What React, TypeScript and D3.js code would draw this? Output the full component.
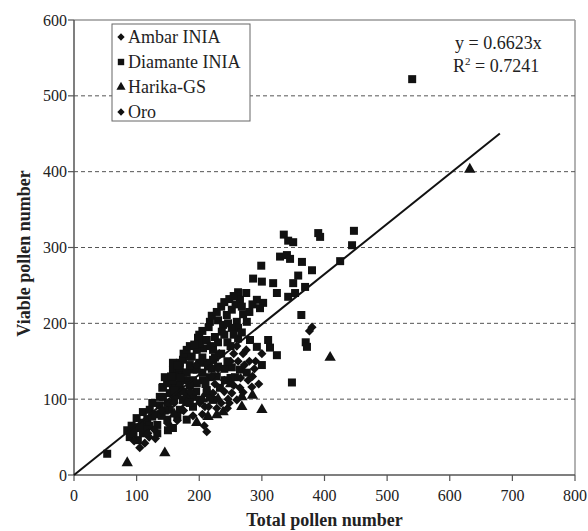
import * as d3 from 'd3';

// [total, viable] pairs
const ambarInia: [number, number][] = [
  [105, 36], [113, 42], [120, 50], [212, 57], [201, 95], [209, 90], [240, 110],
  [250, 150], [270, 160], [260, 170], [284, 116], [270, 109], [252, 108],
  [260, 99], [278, 125], [246, 100], [235, 95], [225, 120], [290, 150],
  [380, 195], [376, 190],
];

const diamanteInia: [number, number][] = [
  [53, 28], [540, 522],
  [335, 317], [342, 309], [350, 307], [390, 319], [393, 314], [447, 322],
  [444, 303], [425, 282], [329, 288], [340, 290], [345, 285], [364, 281],
  [380, 270], [299, 276], [286, 259], [300, 255], [318, 253], [358, 263],
  [350, 253], [369, 248], [324, 240], [342, 235], [353, 240], [363, 211],
  [370, 175], [372, 169], [348, 122], [300, 145], [310, 178], [313, 168],
  [324, 158], [292, 169],
  [262, 241], [275, 240], [265, 231], [292, 231], [302, 227], [297, 220],
  [252, 218], [244, 211], [230, 204], [238, 198], [217, 202], [260, 202],
  [276, 202], [198, 181], [209, 178], [225, 182], [236, 189], [262, 194],
  [252, 194], [281, 178], [188, 156], [206, 167], [222, 165], [169, 148],
  [158, 139], [174, 135], [190, 139], [222, 152], [230, 143], [214, 143],
  [252, 142], [265, 139], [257, 129], [276, 135], [241, 125], [233, 115],
  [206, 125], [217, 129], [196, 121], [149, 125], [142, 116], [158, 116],
  [169, 119], [137, 103], [153, 108], [174, 99], [190, 103], [201, 99],
  [212, 108], [222, 99],
  [85, 59], [98, 63], [89, 50], [102, 46], [110, 55], [109, 69], [117, 73],
  [110, 83], [121, 86], [125, 77], [133, 66], [133, 55], [137, 92], [142, 103],
  [141, 115], [149, 121], [153, 86], [149, 73], [158, 62], [150, 59],
  [145, 129], [158, 125], [165, 135], [169, 142], [158, 148], [169, 112],
  [180, 103], [190, 90], [174, 152], [185, 156], [196, 165], [201, 174],
  [212, 178], [180, 135], [190, 125], [196, 139], [212, 148], [169, 86],
  [165, 77], [180, 73], [217, 102], [212, 112],
  [160, 130], [165, 145], [175, 160], [180, 165], [185, 170], [192, 172],
  [200, 185], [205, 190], [215, 195], [220, 210], [228, 215], [235, 222],
  [240, 228], [248, 232], [255, 236], [258, 225], [268, 222], [270, 212],
  [280, 215], [285, 225], [246, 200], [240, 185], [230, 175], [218, 170],
  [205, 155], [200, 148], [185, 145], [178, 125], [165, 105], [160, 100],
  [150, 95], [145, 85], [130, 80], [125, 95], [120, 65], [115, 60], [105, 62],
  [95, 55], [92, 65], [100, 75], [140, 78], [155, 130], [185, 118], [195, 110],
  [210, 120], [220, 140], [228, 130], [240, 140], [245, 150], [235, 160],
  [225, 155], [250, 170], [262, 180], [268, 188], [245, 175], [255, 185],
  [160, 112], [175, 110], [185, 95], [170, 128], [205, 135], [250, 128],
];

const harikaGs: [number, number][] = [
  [85, 16], [145, 29], [196, 69], [214, 77], [228, 79], [238, 83], [268, 90],
  [268, 103], [300, 86], [409, 155], [632, 403], [160, 80], [180, 95],
  [250, 120], [230, 100], [205, 100], [285, 105],
];

const oro: [number, number][] = [
  [96, 45], [128, 60], [160, 95], [185, 110], [228, 88], [245, 88], [265, 115],
  [272, 145], [288, 140], [300, 160], [232, 160], [220, 130], [255, 160],
  [195, 145], [140, 85], [215, 90], [230, 140], [262, 150], [275, 165],
  [280, 150], [255, 118], [240, 125], [285, 130], [295, 120], [248, 95],
  [205, 80], [190, 78], [175, 85], [130, 48], [118, 55], [150, 68], [165, 72],
  [208, 65], [222, 108], [266, 128],
];

const xTicks = [0, 100, 200, 300, 400, 500, 600, 700, 800];
const yTicks = [0, 100, 200, 300, 400, 500, 600];
const slope = 0.6623;
const r2 = 0.7241;
const fitEnd = 680;

const width = 588;
const height = 531;
const margin = { top: 20, right: 13, bottom: 56, left: 74 };
const font = '"Liberation Serif", "Times New Roman", serif';

const App = () => {
  const x = d3.scaleLinear().domain([0, 800]).range([margin.left, width - margin.right]);
  const y = d3.scaleLinear().domain([0, 600]).range([height - margin.bottom, margin.top]);

  const square = d3.symbol(d3.symbolSquare, 64)()!;
  const diamond = d3.symbol(d3.symbolSquare, 42)()!;
  const triangle = d3.symbol(d3.symbolTriangle, 56)()!;

  const series = [
    { name: 'Ambar INIA', data: ambarInia, path: diamond, rot: 45 },
    { name: 'Diamante INIA', data: diamanteInia, path: square, rot: 0 },
    { name: 'Harika-GS', data: harikaGs, path: triangle, rot: 0 },
    { name: 'Oro', data: oro, path: diamond, rot: 45 },
  ];

  const line = d3.line<number>().x((d) => x(d)).y((d) => y(d * slope));

  const x0 = x(0);
  const x1 = x(800);
  const y0 = y(0);
  const yTop = y(600);

  return (
    <svg
      width={width}
      height={height}
      style={{ position: 'absolute', left: 0, top: 0, background: 'white' }}
      fontFamily={font}
    >
      {/* frame */}
      <line x1={x0} x2={x1} y1={yTop} y2={yTop} stroke="#999" strokeWidth={1.5} />
      <line x1={x1} x2={x1} y1={yTop} y2={y0} stroke="#999" strokeWidth={1.5} />

      {/* grid */}
      {yTicks.slice(1, -1).map((t) => (
        <line key={t} x1={x0} x2={x1} y1={y(t)} y2={y(t)} stroke="#555" strokeWidth={1} strokeDasharray="4,3" />
      ))}

      {/* axes */}
      <line x1={x0} x2={x0} y1={yTop} y2={y0} stroke="#555" strokeWidth={1.5} />
      <line x1={x0} x2={x1} y1={y0} y2={y0} stroke="#555" strokeWidth={1.5} />
      {yTicks.map((t) => (
        <g key={t}>
          <line x1={x0 - 6} x2={x0} y1={y(t)} y2={y(t)} stroke="#555" strokeWidth={1.2} />
          <text x={x0 - 7} y={y(t)} dy="0.35em" textAnchor="end" fontSize={16} fill="#222">{t}</text>
        </g>
      ))}
      {xTicks.map((t) => (
        <g key={t}>
          <line x1={x(t)} x2={x(t)} y1={y0} y2={y0 + 6} stroke="#555" strokeWidth={1.2} />
          <text x={x(t)} y={y0 + 26} textAnchor="middle" fontSize={16} fill="#222">{t}</text>
        </g>
      ))}

      <text x={(x0 + x1) / 2} y={height - 5} textAnchor="middle" fontSize={18} fontWeight="bold" fill="#222">
        Total pollen number
      </text>
      <text
        transform={`translate(30, ${(yTop + y0) / 2 + 6}) rotate(-90)`}
        textAnchor="middle"
        fontSize={18}
        fontWeight="bold"
        fill="#222"
      >
        Viable pollen number
      </text>

      {/* points */}
      {series.map((s) =>
        s.data.map((d, i) => (
          <path
            key={s.name + i}
            d={s.path}
            transform={`translate(${x(d[0])},${y(d[1])}) rotate(${s.rot})`}
            fill="#111"
          />
        ))
      )}

      {/* fit */}
      <path d={line([0, fitEnd])!} stroke="#111" strokeWidth={2} fill="none" />
      <text x={455} y={49} fontSize={18} fill="#222">y = {slope}x</text>
      <text x={453} y={72} fontSize={18} fill="#222">
        R<tspan fontSize={11} dy={-7}>2</tspan><tspan dy={7}> = {r2}</tspan>
      </text>

      {/* legend */}
      <rect x={112} y={24} width={138} height={97} fill="white" stroke="#666" strokeWidth={1} />
      {series.map((s, i) => (
        <g key={s.name} transform={`translate(121, ${37 + i * 25})`}>
          <path d={s.path} transform={`rotate(${s.rot}) scale(0.8)`} fill="#111" />
          <text x={7} dy="0.35em" fontSize={18} fill="#222">{s.name}</text>
        </g>
      ))}
    </svg>
  );
};

export default App;
